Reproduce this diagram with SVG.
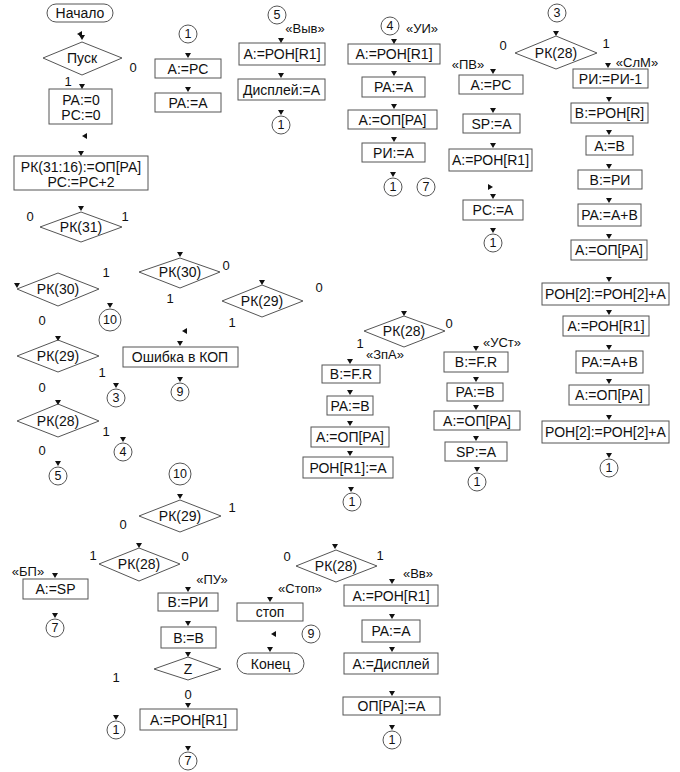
<svg xmlns="http://www.w3.org/2000/svg" xmlns:xlink="http://www.w3.org/1999/xlink" width="680" height="772" viewBox="0 0 680 772">
<style>
.b{fill:#fff;stroke:#555;stroke-width:1}
.t{font-family:"Liberation Sans",Arial,sans-serif;font-size:14px;fill:#111;text-anchor:middle;dominant-baseline:central}
.l{font-family:"Liberation Sans",Arial,sans-serif;font-size:13px;fill:#111;text-anchor:middle;dominant-baseline:central}
.c{font-family:"Liberation Sans",Arial,sans-serif;font-size:12.5px;fill:#111;text-anchor:middle;dominant-baseline:central}
.a{fill:#111}
</style>
<defs>
<path id="ad" d="M-3,-5 L3,-5 L0,0 Z"/>
<path id="al" d="M5,-3 L5,3 L0,0 Z"/>
<path id="ar" d="M-5,-3 L-5,3 L0,0 Z"/>
</defs>
<rect width="680" height="772" fill="#fff"/>

<!-- left column top -->
<g id="start"><rect class="b" x="47" y="4" width="66" height="18" rx="9"/><text class="t" x="80" y="13">Начало</text></g>
<g id="pusk"><polygon class="b" points="43,58 82,42 122,58 82,75"/><text class="t" x="82" y="58">Пуск</text></g>
<g id="init"><rect class="b" x="49" y="89" width="63" height="35"/><text class="t" x="81" y="100">PA:=0</text><text class="t" x="81" y="115">PC:=0</text></g>
<g id="fetch"><rect class="b" x="14" y="156" width="134" height="34"/><text class="t" x="81" y="167">РК(31:16):=ОП[РА]</text><text class="t" x="81" y="182">PC:=PC+2</text></g>
<g id="rk31"><polygon class="b" points="40,227 81,212 122,227 81,242"/><text class="t" x="81" y="227">РК(31)</text></g>
<g id="rk30a"><polygon class="b" points="17,289 58,273 99,289 58,306"/><text class="t" x="58" y="289">РК(30)</text></g>
<g id="c10a"><circle class="b" cx="110" cy="320" r="11"/><text class="c" x="110" y="320">10</text></g>
<g id="rk30b"><polygon class="b" points="139,272 180,258 220,272 180,288"/><text class="t" x="180" y="272">РК(30)</text></g>
<g id="rk29a"><polygon class="b" points="222,301 262,285 303,301 262,317"/><text class="t" x="262" y="301">РК(29)</text></g>
<g id="err"><rect class="b" x="123" y="347" width="115" height="20"/><text class="t" x="180" y="357">Ошибка в КОП</text></g>
<g id="c9a"><circle class="b" cx="180" cy="392" r="9"/><text class="c" x="180" y="392">9</text></g>
<g id="rk29b"><polygon class="b" points="17,356 58,340 99,356 58,372"/><text class="t" x="58" y="356">РК(29)</text></g>
<g id="c3a"><circle class="b" cx="116" cy="398" r="9"/><text class="c" x="116" y="398">3</text></g>
<g id="rk28a"><polygon class="b" points="17,421 58,404 99,421 58,437"/><text class="t" x="58" y="421">РК(28)</text></g>
<g id="c4a"><circle class="b" cx="123" cy="452" r="9"/><text class="c" x="123" y="452">4</text></g>
<g id="c5a"><circle class="b" cx="58" cy="476" r="9"/><text class="c" x="58" y="476">5</text></g>

<!-- column 1 -->
<g id="c1a"><circle class="b" cx="188" cy="34" r="9"/><text class="c" x="188" y="34">1</text></g>
<g id="n_apc"><rect class="b" x="155" y="59" width="66" height="19"/><text class="t" x="188" y="68.5">A:=PC</text></g>
<g id="n_paa"><rect class="b" x="155" y="93" width="66" height="19"/><text class="t" x="188" y="102.5">PA:=A</text></g>

<!-- Выв -->
<g id="c5b"><circle class="b" cx="277" cy="15" r="9"/><text class="c" x="277" y="15">5</text></g>
<g id="vyv1"><rect class="b" x="239" y="43" width="86" height="22"/><text class="t" x="282" y="54">A:=РОН[R1]</text></g>
<g id="vyv2"><rect class="b" x="238" y="79" width="87" height="21"/><text class="t" x="281.5" y="89.5">Дисплей:=A</text></g>
<g id="c1b"><circle class="b" cx="281" cy="125" r="9"/><text class="c" x="281" y="125">1</text></g>

<!-- УИ -->
<g id="c4b"><circle class="b" cx="390" cy="26" r="9"/><text class="c" x="390" y="26">4</text></g>
<g id="ui1"><rect class="b" x="348" y="44" width="92" height="20"/><text class="t" x="394" y="54">A:=РОН[R1]</text></g>
<g id="ui2"><rect class="b" x="362" y="77" width="63" height="20"/><text class="t" x="393.5" y="87">PA:=A</text></g>
<g id="ui3"><rect class="b" x="348" y="110" width="89" height="19"/><text class="t" x="392.5" y="119.5">A:=ОП[PA]</text></g>
<g id="ui4"><rect class="b" x="362" y="143" width="63" height="19"/><text class="t" x="393.5" y="152.5">РИ:=A</text></g>
<g id="c1c"><circle class="b" cx="393" cy="187" r="9"/><text class="c" x="393" y="187">1</text></g>
<g id="c7a"><circle class="b" cx="426" cy="187" r="9"/><text class="c" x="426" y="187">7</text></g>

<!-- ПВ -->
<g id="pv1"><rect class="b" x="459" y="75" width="64" height="19"/><text class="t" x="491" y="84.5">A:=PC</text></g>
<g id="pv2"><rect class="b" x="463" y="114" width="57" height="19"/><text class="t" x="491.5" y="123.5">SP:=A</text></g>
<g id="pv3"><rect class="b" x="449" y="149" width="83" height="22"/><text class="t" x="490.5" y="160">A:=РОН[R1]</text></g>
<g id="pv4"><rect class="b" x="463" y="200" width="60" height="20"/><text class="t" x="493" y="210">PC:=A</text></g>
<g id="c1d"><circle class="b" cx="493" cy="243" r="9"/><text class="c" x="493" y="243">1</text></g>

<!-- СлМ -->
<g id="c3b"><circle class="b" cx="557" cy="13" r="9"/><text class="c" x="557" y="13">3</text></g>
<g id="rk28b"><polygon class="b" points="515,53 556,36 597,53 556,69"/><text class="t" x="556" y="53">РК(28)</text></g>
<g id="s1"><rect class="b" x="573" y="69" width="75" height="19"/><text class="t" x="610.5" y="78.5">РИ:=РИ-1</text></g>
<g id="s2"><rect class="b" x="571" y="103" width="77" height="20"/><text class="t" x="609.5" y="113">B:=РОН[R]</text></g>
<g id="s3"><rect class="b" x="586" y="136" width="47" height="19"/><text class="t" x="609.5" y="145.5">A:=B</text></g>
<g id="s4"><rect class="b" x="578" y="170" width="64" height="19"/><text class="t" x="610" y="179.5">B:=РИ</text></g>
<g id="s5"><rect class="b" x="578" y="204" width="63" height="22"/><text class="t" x="609.5" y="215">PA:=A+B</text></g>
<g id="s6"><rect class="b" x="571" y="240" width="76" height="20"/><text class="t" x="609" y="250">A:=ОП[PA]</text></g>
<g id="s7"><rect class="b" x="542" y="283" width="127" height="22"/><text class="t" x="605.5" y="294">РОН[2]:=РОН[2]+A</text></g>
<g id="s8"><rect class="b" x="563" y="316" width="86" height="20"/><text class="t" x="606" y="326">A:=РОН[R1]</text></g>
<g id="s9"><rect class="b" x="576" y="351" width="67" height="22"/><text class="t" x="609.5" y="362">PA:=A+B</text></g>
<g id="s10"><rect class="b" x="569" y="385" width="80" height="20"/><text class="t" x="609" y="395">A:=ОП[PA]</text></g>
<g id="s11"><rect class="b" x="542" y="421" width="127" height="22"/><text class="t" x="605.5" y="432">РОН[2]:=РОН[2]+A</text></g>
<g id="c1e"><circle class="b" cx="609" cy="468" r="9"/><text class="c" x="609" y="468">1</text></g>

<!-- ЗпА / УСт -->
<g id="rk28c"><polygon class="b" points="364,331 404,316 445,331 404,347"/><text class="t" x="404" y="331">РК(28)</text></g>
<g id="z1"><rect class="b" x="322" y="365" width="58" height="18"/><text class="t" x="351" y="374">B:=F.R</text></g>
<g id="z2"><rect class="b" x="327" y="396" width="46" height="19"/><text class="t" x="350" y="405.5">PA:=B</text></g>
<g id="z3"><rect class="b" x="311" y="427" width="78" height="20"/><text class="t" x="350" y="437">A:=ОП[PA]</text></g>
<g id="z4"><rect class="b" x="303" y="457" width="90" height="21"/><text class="t" x="348" y="467.5">РОН[R1]:=A</text></g>
<g id="c1f"><circle class="b" cx="352" cy="502" r="9"/><text class="c" x="352" y="502">1</text></g>
<g id="u1"><rect class="b" x="444" y="352" width="64" height="20"/><text class="t" x="476" y="362">B:=F.R</text></g>
<g id="u2"><rect class="b" x="447" y="383" width="56" height="18"/><text class="t" x="475" y="392">PA:=B</text></g>
<g id="u3"><rect class="b" x="434" y="411" width="86" height="19"/><text class="t" x="477" y="420.5">A:=ОП[PA]</text></g>
<g id="u4"><rect class="b" x="445" y="442" width="62" height="19"/><text class="t" x="476" y="451.5">SP:=A</text></g>
<g id="c1g"><circle class="b" cx="477" cy="482" r="9"/><text class="c" x="477" y="482">1</text></g>

<!-- bottom -->
<g id="c10b"><circle class="b" cx="180" cy="474" r="11"/><text class="c" x="180" y="474">10</text></g>
<g id="rk29c"><polygon class="b" points="139,516 180,500 221,516 180,532"/><text class="t" x="180" y="516">РК(29)</text></g>
<g id="rk28d"><polygon class="b" points="99,564 139,548 180,564 139,581"/><text class="t" x="139" y="564">РК(28)</text></g>
<g id="bp"><rect class="b" x="23" y="579" width="65" height="20"/><text class="t" x="55.5" y="589">A:=SP</text></g>
<g id="c7b"><circle class="b" cx="55" cy="628" r="9"/><text class="c" x="55" y="628">7</text></g>
<g id="pu1"><rect class="b" x="158" y="593" width="60" height="18"/><text class="t" x="188" y="602">B:=РИ</text></g>
<g id="pu2"><rect class="b" x="161" y="627" width="55" height="21"/><text class="t" x="188.5" y="637.5">B:=B</text></g>
<g id="zd"><polygon class="b" points="154,669 188,657 221,669 188,680"/><text class="t" x="188" y="669">Z</text></g>
<g id="pu3"><rect class="b" x="140" y="709" width="97" height="21"/><text class="t" x="188.5" y="719.5">A:=РОН[R1]</text></g>
<g id="c1h"><circle class="b" cx="116" cy="730" r="9"/><text class="c" x="116" y="730">1</text></g>
<g id="c7c"><circle class="b" cx="188" cy="761" r="9"/><text class="c" x="188" y="761">7</text></g>

<g id="rk28e"><polygon class="b" points="296,566 336,550 377,566 336,582"/><text class="t" x="336" y="566">РК(28)</text></g>
<g id="stop"><rect class="b" x="237" y="603" width="66" height="18"/><text class="t" x="270" y="612">стоп</text></g>
<g id="c9b"><circle class="b" cx="311" cy="634" r="9"/><text class="c" x="311" y="634">9</text></g>
<g id="end"><rect class="b" x="237" y="653" width="67" height="21" rx="10.5"/><text class="t" x="270.5" y="663.5">Конец</text></g>
<g id="vv1"><rect class="b" x="344" y="585" width="94" height="21"/><text class="t" x="391" y="595.5">A:=РОН[R1]</text></g>
<g id="vv2"><rect class="b" x="362" y="620" width="58" height="22"/><text class="t" x="391" y="631">PA:=A</text></g>
<g id="vv3"><rect class="b" x="344" y="653" width="94" height="21"/><text class="t" x="391" y="663.5">A:=Дисплей</text></g>
<g id="vv4"><rect class="b" x="343" y="697" width="97" height="18"/><text class="t" x="391.5" y="706">ОП[PA]:=A</text></g>
<g id="c1i"><circle class="b" cx="392" cy="740" r="9"/><text class="c" x="392" y="740">1</text></g>

<!-- labels -->
<g id="labels">
<text class="l" x="133" y="67">0</text><text class="l" x="68" y="81">1</text>
<text class="l" x="30" y="216">0</text><text class="l" x="125" y="216">1</text>
<text class="l" x="106" y="272">1</text><text class="l" x="42" y="320">0</text>
<text class="l" x="226" y="265">0</text><text class="l" x="170" y="298">1</text>
<text class="l" x="319" y="287">0</text><text class="l" x="232" y="322">1</text>
<text class="l" x="102" y="372">1</text><text class="l" x="42" y="387">0</text>
<text class="l" x="106" y="431">1</text><text class="l" x="42" y="450">0</text>
<text class="l" x="305" y="28">«Выв»</text>
<text class="l" x="422" y="28">«УИ»</text>
<text class="l" x="503" y="45">0</text><text class="l" x="606" y="43">1</text>
<text class="l" x="468" y="64">«ПВ»</text>
<text class="l" x="637" y="62">«СлМ»</text>
<text class="l" x="449" y="323">0</text><text class="l" x="360" y="343">1</text>
<text class="l" x="385" y="354">«ЗпА»</text>
<text class="l" x="502" y="342">«УСт»</text>
<text class="l" x="232" y="507">1</text><text class="l" x="123" y="524">0</text>
<text class="l" x="93" y="555">1</text><text class="l" x="185" y="556">0</text>
<text class="l" x="28" y="571">«БП»</text>
<text class="l" x="212" y="579">«ПУ»</text>
<text class="l" x="116" y="677">1</text><text class="l" x="188" y="694">0</text>
<text class="l" x="287" y="556">0</text><text class="l" x="380" y="555">1</text>
<text class="l" x="300" y="588">«Стоп»</text>
<text class="l" x="418" y="573">«Вв»</text>
</g>

<!-- connectors (only arrowheads visible) -->
<g id="connectors" class="a">
<use href="#ad" x="82" y="40"/><use href="#al" x="77" y="34"/>
<use href="#ad" x="82" y="89"/>
<use href="#al" x="82" y="136"/>
<use href="#ad" x="81" y="156"/>
<use href="#ad" x="81" y="211"/>
<use href="#ad" x="17" y="288"/>
<use href="#ad" x="110" y="308"/>
<use href="#ad" x="180" y="257"/>
<use href="#ad" x="262" y="285"/>
<use href="#al" x="182" y="331"/>
<use href="#ad" x="180" y="346"/>
<use href="#ad" x="180" y="382"/>
<use href="#ad" x="58" y="341"/>
<use href="#ad" x="116" y="388"/>
<use href="#ad" x="58" y="405"/>
<use href="#ad" x="123" y="442"/>
<use href="#ad" x="58" y="466"/>
<use href="#ad" x="188" y="58"/>
<use href="#ad" x="188" y="92"/>
<use href="#ad" x="281" y="43"/>
<use href="#ad" x="281" y="78"/>
<use href="#ad" x="281" y="115"/>
<use href="#ad" x="394" y="44"/>
<use href="#ad" x="394" y="76"/>
<use href="#ad" x="394" y="109"/>
<use href="#ad" x="394" y="142"/>
<use href="#ad" x="393" y="177"/>
<use href="#ad" x="493" y="74"/>
<use href="#ad" x="493" y="113"/>
<use href="#ad" x="493" y="148"/>
<use href="#ar" x="493" y="187"/>
<use href="#ad" x="493" y="199"/>
<use href="#ad" x="493" y="233"/>
<use href="#ad" x="556" y="36"/>
<use href="#ad" x="608" y="68"/>
<use href="#ad" x="609" y="102"/>
<use href="#ad" x="609" y="135"/>
<use href="#ad" x="609" y="169"/>
<use href="#ad" x="609" y="203"/>
<use href="#ad" x="609" y="239"/>
<use href="#ad" x="609" y="282"/>
<use href="#ad" x="609" y="315"/>
<use href="#ad" x="609" y="350"/>
<use href="#ad" x="609" y="384"/>
<use href="#ad" x="609" y="420"/>
<use href="#ad" x="609" y="458"/>
<use href="#ad" x="404" y="316"/>
<use href="#ad" x="350" y="364"/>
<use href="#ad" x="350" y="395"/>
<use href="#ad" x="350" y="426"/>
<use href="#ad" x="350" y="456"/>
<use href="#ad" x="351" y="492"/>
<use href="#ad" x="476" y="351"/>
<use href="#ad" x="476" y="382"/>
<use href="#ad" x="476" y="410"/>
<use href="#ad" x="476" y="441"/>
<use href="#ad" x="477" y="472"/>
<use href="#ad" x="180" y="499"/>
<use href="#ad" x="139" y="548"/>
<use href="#ad" x="55" y="578"/>
<use href="#ad" x="55" y="618"/>
<use href="#ad" x="188" y="592"/>
<use href="#ad" x="188" y="626"/>
<use href="#ad" x="188" y="657"/>
<use href="#ad" x="188" y="708"/>
<use href="#ad" x="116" y="720"/>
<use href="#ad" x="188" y="751"/>
<use href="#ad" x="335" y="549"/>
<use href="#ad" x="270" y="602"/>
<use href="#al" x="271" y="634"/>
<use href="#ad" x="270" y="652"/>
<use href="#ad" x="392" y="584"/>
<use href="#ad" x="392" y="619"/>
<use href="#ad" x="392" y="652"/>
<use href="#ad" x="392" y="696"/>
<use href="#ad" x="392" y="730"/>
</g>
</svg>
